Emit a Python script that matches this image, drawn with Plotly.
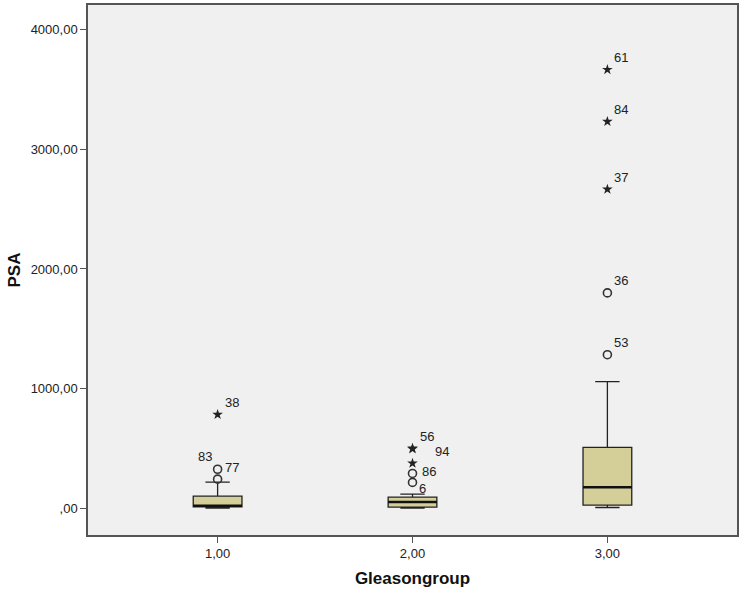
import plotly.graph_objects as go

# box statistics per Gleason group
groups = [1, 2, 3]
group_ticks = ["1,00", "2,00", "3,00"]
q1 = [10, 8, 25]
median = [20, 50, 175]
q3 = [100, 92, 508]
lower_fence = [0, 0, 5]
upper_fence = [217, 117, 1058]

# outliers: circles (mild) and stars (extreme)
circle_x = [1, 1, 2, 2, 3, 3]
circle_y = [325, 242, 290, 215, 1283, 1800]
circle_ids = ["77", "83", "86", "6", "53", "36"]
star_x = [1, 2, 2, 2, 3, 3, 3]
star_y = [783, 500, 495, 375, 2667, 3233, 3667]
star_ids = ["38", "56", "94", "", "37", "84", "61"]

y_ticks = [0, 1000, 2000, 3000, 4000]
y_ticktext = [",00", "1000,00", "2000,00", "3000,00", "4000,00"]

BOX_WIDTH = 0.25
FILL = "#d4cf98"
FONT = "Liberation Sans, Arial, sans-serif"

# label placement tweaks (xanchor, xshift, yshift); default is upper right
_LABEL_POS = {
    "77": ("left", 5, 2),
    "83": ("right", -4, 23),
    "94": ("left", 20, -3),
    "86": ("left", 7, 2),
    "6": ("left", 4, -6),
}

fig = go.Figure()
fig.add_trace(go.Box(
    x=groups, q1=q1, median=median, q3=q3,
    lowerfence=lower_fence, upperfence=upper_fence,
    width=BOX_WIDTH, whiskerwidth=0.5, boxpoints=False,
    fillcolor=FILL, line=dict(color="#222", width=1.3),
    hoverinfo="skip", showlegend=False,
))

# thicker median bars
mx, my = [], []
for g, m in zip(groups, median):
    mx += [g - BOX_WIDTH / 2, g + BOX_WIDTH / 2, None]
    my += [m, m, None]
fig.add_trace(go.Scatter(
    x=mx, y=my, mode="lines", line=dict(color="#111", width=2.5),
    showlegend=False, hoverinfo="skip",
))

fig.add_trace(go.Scatter(
    x=circle_x, y=circle_y, mode="markers",
    marker=dict(symbol="circle-open", size=8, color="#333", line=dict(width=1.6)),
    showlegend=False,
))
fig.add_trace(go.Scatter(
    x=star_x, y=star_y, mode="markers",
    marker=dict(symbol="star", size=8, color="#222"),
    showlegend=False,
))

for xs, ys, ids in [(circle_x, circle_y, circle_ids), (star_x, star_y, star_ids)]:
    for x, y, label in zip(xs, ys, ids):
        if not label:
            continue
        anchor, dx, dy = _LABEL_POS.get(label, ("left", 5, 12))
        fig.add_annotation(
            x=x, y=y, text=label, showarrow=False,
            xanchor=anchor, yanchor="middle", xshift=dx, yshift=dy,
            font=dict(family=FONT, size=13, color="#222"),
        )

axis_common = dict(
    showgrid=False, zeroline=False, showline=True, mirror=True,
    linecolor="#555", linewidth=1.5, ticks="outside", ticklen=6,
    tickcolor="#555", tickfont=dict(family=FONT, size=13, color="#222"),
)
fig.update_xaxes(
    range=[0.335, 3.665], tickvals=groups, ticktext=group_ticks,
    title=dict(text="<b>Gleasongroup</b>", font=dict(family=FONT, size=17, color="#111"), standoff=12),
    **axis_common,
)
fig.update_yaxes(
    range=[-225, 4208], tickvals=y_ticks, ticktext=y_ticktext,
    title=dict(text="<b>PSA</b>", font=dict(family=FONT, size=17, color="#111"), standoff=6),
    **axis_common,
)
fig.update_layout(
    width=742, height=595,
    margin=dict(l=88, r=3, t=3, b=60),
    paper_bgcolor="white", plot_bgcolor="#f0f0f0",
    showlegend=False,
)
fig.write_html(
    "out.html",
    config={"displayModeBar": False},
    post_script="document.body.style.margin = '0';",
)
